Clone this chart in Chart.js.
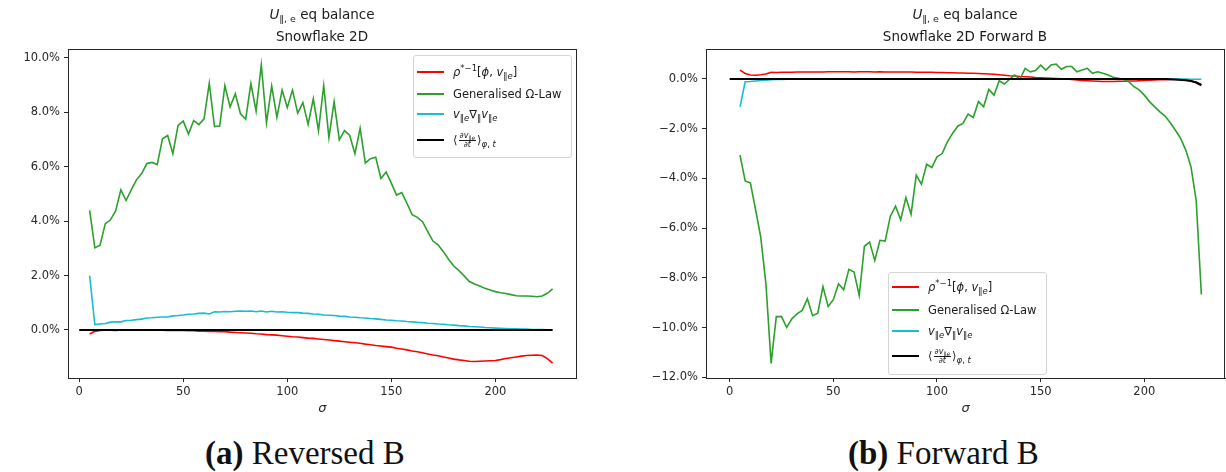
<!DOCTYPE html>
<html>
<head>
<meta charset="utf-8">
<script src="https://cdn.jsdelivr.net/npm/chart.js@4.4.1/dist/chart.umd.min.js"></script>
<style>
body{margin:0;background:#fff;width:1226px;height:472px;position:relative;overflow:hidden;font-family:"DejaVu Sans",sans-serif;color:#1a1a1a;}
canvas{position:absolute;top:0;}
.title{position:absolute;top:3px;width:400px;text-align:center;font-size:13.5px;line-height:22px;}
.title sub{font-size:9.5px;vertical-align:-3px;line-height:0;}
.legend{position:absolute;background:rgba(255,255,255,0.85);border:1px solid #d4d4d4;border-radius:3px;width:157px;height:101px;font-size:11.5px;}
.legend .row{position:absolute;left:0;height:20px;width:100%;display:flex;align-items:center;}
.legend .swatch{position:absolute;left:3px;width:27px;height:2px;}
.legend .lab{position:absolute;left:39px;white-space:nowrap;}
.legend sub{font-size:8.5px;vertical-align:-3px;line-height:0;}
.legend sup{font-size:8.5px;vertical-align:5px;line-height:0;}
.frac{display:inline-flex;flex-direction:column;align-items:center;font-size:8px;line-height:8px;vertical-align:middle;margin:0 1px;}
.frac .num{border-bottom:1px solid #1a1a1a;padding:0 1px;}
.frac sub{font-size:6px;vertical-align:-2px;}
.cap{position:absolute;top:435px;font-family:"Liberation Serif",serif;font-size:33px;white-space:nowrap;color:#111;}
</style>
</head>
<body>
<canvas id="revChart" width="600" height="420" style="left:0"></canvas>
<canvas id="fwdChart" width="586" height="420" style="left:640px"></canvas>

<div class="title" style="left:122px"><i>U</i><sub>&#8214;, e</sub> eq balance<br>Snowflake 2D</div>
<div class="title" style="left:765px"><i>U</i><sub>&#8214;, e</sub> eq balance<br>Snowflake 2D Forward B</div>

<div class="legend" style="left:413px;top:55px">
  <div class="row" style="top:6px"><span class="swatch" style="background:#ff0000"></span><span class="lab"><i>&rho;</i><sup>*&minus;1</sup>[<i>&#981;</i>, <i>v</i><sub>&#8214;<i>e</i></sub>]</span></div>
  <div class="row" style="top:28px"><span class="swatch" style="background:#2ca02c"></span><span class="lab">Generalised &Omega;-Law</span></div>
  <div class="row" style="top:48px"><span class="swatch" style="background:#17becf"></span><span class="lab"><i>v</i><sub>&#8214;<i>e</i></sub>&nabla;<sub>&#8214;</sub><i>v</i><sub>&#8214;<i>e</i></sub></span></div>
  <div class="row" style="top:74px"><span class="swatch" style="background:#000"></span><span class="lab">&#10216;<span class="frac"><span class="num">&part;<i>v</i><sub>&#8214;<i>e</i></sub></span><span>&part;<i>t</i></span></span>&#10217;<sub><i>&phi;</i>, <i>t</i></sub></span></div>
</div>

<div class="legend" style="left:888px;top:272px">
  <div class="row" style="top:4px"><span class="swatch" style="background:#ff0000"></span><span class="lab"><i>&rho;</i><sup>*&minus;1</sup>[<i>&#981;</i>, <i>v</i><sub>&#8214;<i>e</i></sub>]</span></div>
  <div class="row" style="top:27px"><span class="swatch" style="background:#2ca02c"></span><span class="lab">Generalised &Omega;-Law</span></div>
  <div class="row" style="top:48px"><span class="swatch" style="background:#17becf"></span><span class="lab"><i>v</i><sub>&#8214;<i>e</i></sub>&nabla;<sub>&#8214;</sub><i>v</i><sub>&#8214;<i>e</i></sub></span></div>
  <div class="row" style="top:73px"><span class="swatch" style="background:#000"></span><span class="lab">&#10216;<span class="frac"><span class="num">&part;<i>v</i><sub>&#8214;<i>e</i></sub></span><span>&part;<i>t</i></span></span>&#10217;<sub><i>&phi;</i>, <i>t</i></sub></span></div>
</div>

<div class="cap" style="left:205px"><b>(a)</b> Reversed B</div>
<div class="cap" style="left:848px"><b>(b)</b> Forward B</div>

<script>
/* sigma grid shared by the coloured curves */
const sigma = [
  5,7.5,10,12.5,15,17.5,20,22.5,25,27.5,
  30,32.5,35,37.5,40,42.5,45,47.5,50,52.5,
  55,57.5,60,62.5,65,67.5,70,72.5,75,77.5,
  80,82.5,85,87.5,90,92.5,95,97.5,100,102.5,
  105,107.5,110,112.5,115,117.5,120,122.5,125,127.5,
  130,132.5,135,137.5,140,142.5,145,147.5,150,152.5,
  155,157.5,160,162.5,165,167.5,170,172.5,175,177.5,
  180,182.5,185,187.5,190,192.5,195,197.5,200,202.5,
  205,207.5,210,212.5,215,217.5,220,222.5,225,227.5
];

/* (a) Reversed B, values in % */
const revRho = [
  -0.15,-0.05,-0.02,-0.01,-0.01,-0.02,0.00,-0.01,0.00,-0.01,
  0.00,-0.01,0.00,-0.01,-0.01,-0.02,-0.01,-0.02,-0.02,-0.03,
  -0.03,-0.04,-0.04,-0.05,-0.05,-0.06,-0.06,-0.08,-0.09,-0.10,
  -0.11,-0.12,-0.14,-0.15,-0.17,-0.18,-0.19,-0.21,-0.23,-0.25,
  -0.26,-0.28,-0.30,-0.31,-0.33,-0.35,-0.37,-0.39,-0.41,-0.43,
  -0.45,-0.47,-0.49,-0.52,-0.54,-0.57,-0.59,-0.61,-0.63,-0.67,
  -0.70,-0.73,-0.77,-0.80,-0.84,-0.88,-0.92,-0.95,-0.99,-1.03,
  -1.07,-1.10,-1.12,-1.15,-1.16,-1.15,-1.14,-1.13,-1.12,-1.09,
  -1.05,-1.02,-0.99,-0.96,-0.94,-0.93,-0.92,-0.94,-1.05,-1.22
];
const revOmega = [
  4.40,3.02,3.12,3.90,4.05,4.38,5.15,4.76,5.15,5.52,
  5.75,6.12,6.16,6.08,7.03,7.15,6.48,7.52,7.68,7.20,
  7.70,7.55,7.76,9.07,7.48,7.50,8.98,8.20,8.68,7.95,
  7.75,9.06,8.05,9.75,7.62,8.97,7.82,8.82,8.18,8.82,
  7.97,8.36,7.56,8.50,7.33,8.98,7.07,8.39,6.99,7.33,
  7.15,6.48,7.41,6.14,6.30,6.35,5.57,5.81,5.40,4.96,
  5.05,4.66,4.24,4.14,3.98,3.62,3.27,3.13,2.88,2.60,
  2.35,2.18,1.99,1.78,1.69,1.62,1.53,1.47,1.41,1.37,
  1.34,1.30,1.26,1.25,1.25,1.24,1.22,1.25,1.35,1.51
];
const revConv = [
  2.00,0.20,0.22,0.24,0.29,0.30,0.30,0.35,0.36,0.38,
  0.40,0.44,0.45,0.47,0.48,0.48,0.52,0.53,0.55,0.58,
  0.59,0.61,0.62,0.59,0.67,0.66,0.68,0.67,0.69,0.70,
  0.69,0.70,0.67,0.70,0.66,0.69,0.66,0.67,0.65,0.64,
  0.64,0.62,0.61,0.59,0.58,0.55,0.54,0.53,0.51,0.50,
  0.48,0.47,0.45,0.44,0.42,0.41,0.39,0.37,0.36,0.34,
  0.33,0.31,0.30,0.28,0.27,0.25,0.24,0.22,0.21,0.19,
  0.18,0.16,0.15,0.13,0.12,0.11,0.09,0.08,0.07,0.06,
  0.05,0.04,0.04,0.03,0.03,0.02,0.02,0.02,0.01,0.01
];
const revDtSigma = [0, 227.5];
const revDt = [0, 0];

/* (b) Forward B, values in % */
const fwdRho = [
  0.36,0.22,0.16,0.15,0.17,0.20,0.27,0.26,0.27,0.27,
  0.27,0.28,0.28,0.28,0.28,0.28,0.28,0.29,0.29,0.29,
  0.29,0.29,0.28,0.29,0.29,0.29,0.28,0.29,0.28,0.28,
  0.28,0.28,0.28,0.28,0.27,0.27,0.27,0.27,0.26,0.26,
  0.25,0.25,0.24,0.24,0.23,0.23,0.22,0.21,0.20,0.19,
  0.17,0.15,0.13,0.12,0.10,0.09,0.08,0.06,0.05,0.04,
  0.03,0.02,0.01,0.00,-0.02,-0.04,-0.06,-0.07,-0.08,-0.09,
  -0.10,-0.10,-0.10,-0.09,-0.09,-0.08,-0.08,-0.07,-0.06,-0.05,
  -0.04,-0.03,-0.03,-0.02,-0.02,-0.03,-0.05,-0.08,-0.13,-0.22
];
const fwdOmega = [
  -3.06,-4.10,-4.18,-5.25,-6.36,-8.24,-11.44,-9.56,-9.56,-9.99,
  -9.65,-9.45,-9.31,-8.84,-9.52,-9.42,-8.35,-9.15,-8.88,-8.24,
  -8.48,-7.66,-7.77,-8.71,-6.73,-6.56,-7.30,-6.49,-6.52,-5.52,
  -5.12,-5.66,-4.77,-5.44,-3.87,-4.23,-3.43,-3.56,-3.13,-3.00,
  -2.53,-2.19,-1.90,-1.79,-1.41,-1.55,-0.91,-1.12,-0.42,-0.65,
  -0.07,-0.20,-0.01,0.16,-0.01,0.43,0.29,0.34,0.56,0.36,
  0.56,0.60,0.39,0.50,0.50,0.29,0.36,0.43,0.23,0.29,
  0.23,0.16,0.07,0.03,-0.01,-0.11,-0.31,-0.44,-0.65,-0.91,
  -1.12,-1.32,-1.49,-1.76,-2.06,-2.39,-2.86,-3.54,-4.88,-8.67
];
const fwdConv = [
  -1.12,-0.11,-0.10,-0.08,-0.06,-0.05,-0.03,-0.02,-0.02,-0.01,
  -0.01,-0.01,-0.01,-0.01,0.00,0.00,0.00,0.00,0.00,0.00,
  0.00,0.00,0.00,0.00,0.00,0.00,0.00,0.00,0.00,0.00,
  0.00,0.00,0.00,0.00,0.00,0.00,0.00,0.00,0.00,0.00,
  0.00,0.00,0.00,0.00,0.00,0.00,0.00,0.00,0.00,0.00,
  0.00,0.00,0.00,0.00,0.00,0.00,0.00,0.00,0.00,0.00,
  0.00,0.00,0.00,0.00,0.00,0.00,0.00,0.00,0.00,0.00,
  0.00,0.00,0.00,0.00,0.00,0.00,0.00,0.00,0.00,0.00,
  0.00,0.00,0.00,0.00,0.00,0.00,0.00,-0.01,-0.01,-0.01
];
const fwdDtSigma = [0, 210, 215, 220, 222.5, 225, 227.5];
const fwdDt = [0, 0, -0.02, -0.05, -0.08, -0.14, -0.25];

/* tick labels */
const xTicks = [0, 50, 100, 150, 200];
const revYTicks = [0, 2, 4, 6, 8, 10];
const fwdYTicks = [-12, -10, -8, -6, -4, -2, 0];

window.onload = function(){
  chartReversed(); chartForward();
};

function pts(xs, ys){
  return xs.map((x, i) => ({x: x, y: ys[i]}));
}

function pct(v){
  return (v < -1e-9 ? '\u2212' : '') + Math.abs(v).toFixed(1) + '%';
}

/* draws the four spines on top of the lines */
const framePlugin = {
  id: 'frame',
  afterDatasetsDraw(chart){
    const a = chart.chartArea, c = chart.ctx;
    c.save();
    c.strokeStyle = '#262626';
    c.lineWidth = 1;
    c.strokeRect(Math.round(a.left) + 0.5, Math.round(a.top) + 0.5,
                 Math.round(a.right - a.left) - 1, Math.round(a.bottom - a.top));
    c.restore();
  }
};

function datasets(rho, omega, conv, dtSigma, dt){
  return [
    {data: pts(sigma, rho), borderColor: '#ff0000', borderWidth: 1.6, order: 3},
    {data: pts(sigma, omega), borderColor: '#2ca02c', borderWidth: 1.6, order: 2},
    {data: pts(sigma, conv), borderColor: '#17becf', borderWidth: 1.6, order: 1},
    {data: pts(dtSigma, dt), borderColor: '#000000', borderWidth: 2.2, order: 0}
  ];
}

function options(xMin, xMax, yMin, yMax, yTicks, yWidth, padRight){
  const tickFont = {family: 'DejaVu Sans', size: 11.5};
  return {
    responsive: false,
    animation: false,
    layout: {padding: {top: 49, right: padRight, bottom: 0, left: 0}},
    elements: {point: {radius: 0}, line: {tension: 0}},
    plugins: {legend: {display: false}, tooltip: {enabled: false}},
    scales: {
      x: {
        type: 'linear', min: xMin, max: xMax,
        afterBuildTicks: s => { s.ticks = xTicks.map(v => ({value: v})); },
        afterFit: s => { s.height = 42; },
        grid: {drawOnChartArea: false, tickLength: 4, color: '#262626'},
        border: {color: '#262626'},
        ticks: {font: tickFont, color: '#262626', padding: 3, maxRotation: 0},
        title: {display: true, text: '\u03c3', font: {family: 'DejaVu Sans', size: 13, style: 'italic'}, color: '#262626', padding: {top: 0, bottom: 4}}
      },
      y: {
        min: yMin, max: yMax,
        afterBuildTicks: s => { s.ticks = yTicks.map(v => ({value: v})); },
        afterFit: s => { s.width = yWidth; },
        grid: {drawOnChartArea: false, tickLength: 4, color: '#262626'},
        border: {color: '#262626'},
        ticks: {font: tickFont, color: '#262626', padding: 4, callback: v => pct(v)}
      }
    }
  };
}

/*CHART REVERSED B*/
function chartReversed(){
  const ctx1 = document.getElementById('revChart').getContext('2d');
  new Chart(ctx1, {
    type: 'line',
    data: {datasets: datasets(revRho, revOmega, revConv, revDtSigma, revDt)},
    options: options(-5.4, 239, -1.765, 10.33, revYTicks, 68, 23.5),
    plugins: [framePlugin]
  });
}

/*CHART FORWARD B*/
function chartForward(){
  const ctx2 = document.getElementById('fwdChart').getContext('2d');
  new Chart(ctx2, {
    type: 'line',
    data: {datasets: datasets(fwdRho, fwdOmega, fwdConv, fwdDtSigma, fwdDt)},
    options: options(-11.4, 238.9, -12.03, 1.207, fwdYTicks, 66, 1),
    plugins: [framePlugin]
  });
}
</script>
</body>
</html>
